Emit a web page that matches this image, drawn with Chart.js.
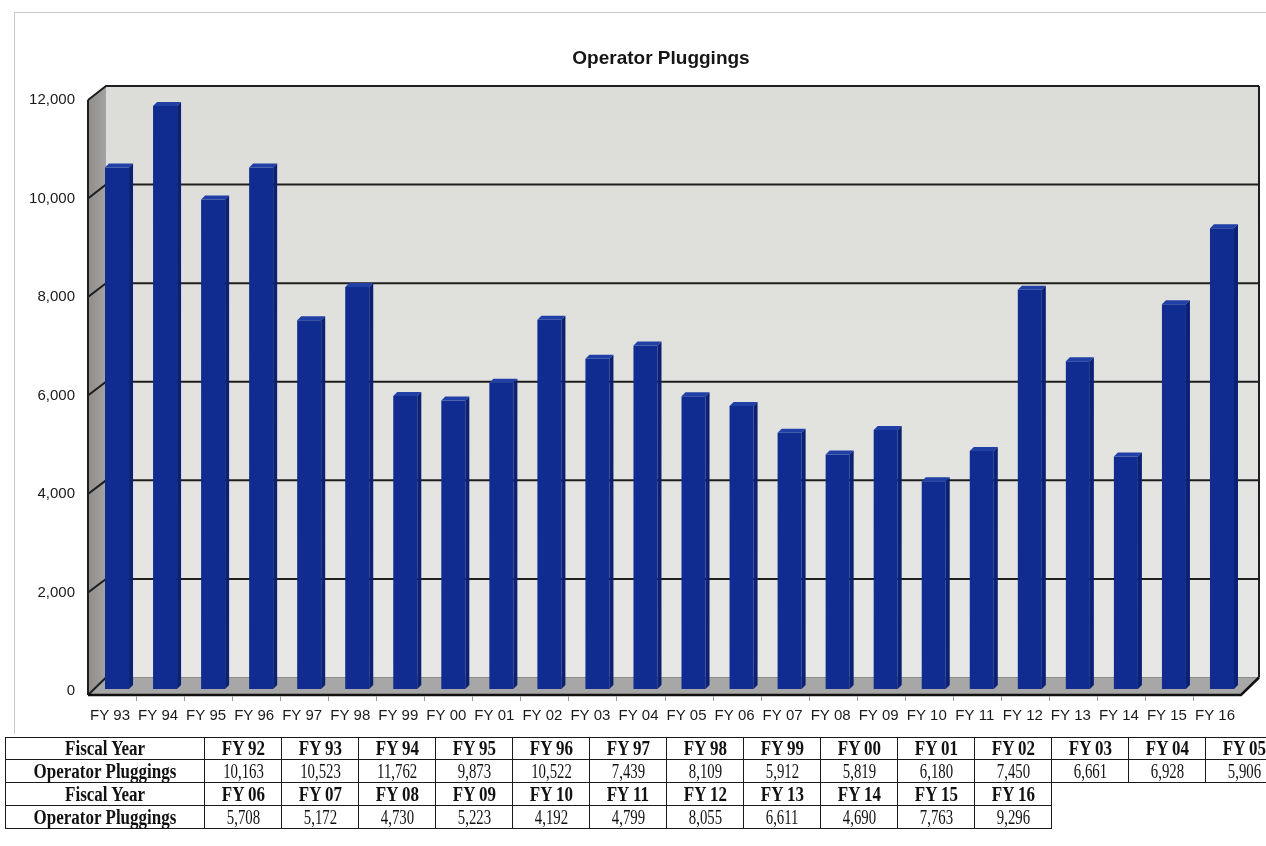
<!DOCTYPE html>
<html>
<head>
<meta charset="utf-8">
<title>Operator Pluggings</title>
<script src="https://cdn.jsdelivr.net/npm/chart.js@4.4.1/dist/chart.umd.min.js"></script>
<style>
  html, body { margin: 0; padding: 0; background: #fff; width: 1266px; height: 846px; overflow: hidden; }
  #frame { position: absolute; left: 14px; top: 12px; width: 1300px; height: 721px;
           border-left: 1px solid #c9c9c9; border-top: 1px solid #c9c9c9; }
  #wrap { position: absolute; left: 0; top: 0; width: 1266px; height: 735px; }
  #tbl { position: absolute; left: 0; top: 0; width: 1266px; height: 846px; overflow: hidden; }
  .cell { position: absolute; box-sizing: border-box; display: flex; align-items: center; justify-content: center;
          font-family: "Liberation Serif", "Times New Roman", serif; font-size: 20px; color: #111;
          white-space: nowrap; border-right: 1.5px solid #1a1a1a; border-bottom: 1.5px solid #1a1a1a; }
  .cell span { display: inline-block; transform: scaleX(0.74); }
  .cell.b { font-weight: bold; }
  .cell.b span { transform: scaleX(0.85); }
  .cell.first { border-left: 1.5px solid #1a1a1a; }
  .cell.top { border-top: 1.5px solid #1a1a1a; }
</style>
</head>
<body>
<div id="frame"></div>
<div id="wrap"><canvas id="chart" width="1266" height="735"></canvas></div>
<div id="tbl"></div>
<script>
// Fiscal years and the number of wells plugged by operators in each
const fiscalYears = ['FY 92', 'FY 93', 'FY 94', 'FY 95', 'FY 96', 'FY 97', 'FY 98', 'FY 99', 'FY 00',
                     'FY 01', 'FY 02', 'FY 03', 'FY 04', 'FY 05', 'FY 06', 'FY 07', 'FY 08', 'FY 09',
                     'FY 10', 'FY 11', 'FY 12', 'FY 13', 'FY 14', 'FY 15', 'FY 16'];
const pluggings = [10163, 10523, 11762, 9873, 10522, 7439, 8109, 5912, 5819,
                   6180, 7450, 6661, 6928, 5906, 5708, 5172, 4730, 5223,
                   4192, 4799, 8055, 6611, 4690, 7763, 9296];

// The chart starts at FY 93
const chartYears = fiscalYears.slice(1);
const chartValues = pluggings.slice(1);
const yTicks = [0, 2000, 4000, 6000, 8000, 10000, 12000];

// Table rows: first block FY 92 - FY 05, second block FY 06 - FY 16
const tableBlocks = [[0, 14], [14, 25]];

const fmt = v => v.toLocaleString('en-US');

Chart.defaults.font.family = '"Liberation Sans", Arial, Helvetica, sans-serif';
Chart.defaults.color = '#1a1a1a';

const DEPTH_X = 18;      // horizontal depth of the plot box
const BAR_D = 4;         // bar extrusion
const FRONT_SHIFT = 5;   // bar face offset from the front category centre

// Back wall, side wall, floor and gridlines of the 3-D plot box
const plotBox = {
  id: 'plotBox',
  beforeDatasetsDraw(chart) {
    const { ctx, scales: { x, y, yBack } } = chart;
    const n = chartYears.length;
    const cw = x.width / n;
    const fl = x.getPixelForValue(0) - cw / 2 - FRONT_SHIFT;
    const fr = fl + cw * n;
    const bl = fl + DEPTH_X, br = fr + DEPTH_X;
    const vTop = yTicks[yTicks.length - 1];
    const top = yBack.getPixelForValue(vTop);
    const bot = yBack.getPixelForValue(0);
    const ftop = y.getPixelForValue(vTop);
    const fbot = chart.chartArea.bottom;

    ctx.save();
    // back wall
    const g = ctx.createLinearGradient(0, top, 0, bot);
    g.addColorStop(0, '#dcddd9');
    g.addColorStop(1, '#e7e8e5');
    ctx.fillStyle = g;
    ctx.fillRect(bl, top, br - bl, bot - top);

    // left side wall
    const gs = ctx.createLinearGradient(fl, 0, bl, 0);
    gs.addColorStop(0, '#8f8c8a');
    gs.addColorStop(1, '#a5a3a1');
    ctx.fillStyle = gs;
    ctx.beginPath();
    ctx.moveTo(fl, ftop); ctx.lineTo(bl, top); ctx.lineTo(bl, bot); ctx.lineTo(fl, fbot);
    ctx.closePath(); ctx.fill();

    // floor
    ctx.fillStyle = '#a7a7a7';
    ctx.beginPath();
    ctx.moveTo(fl, fbot); ctx.lineTo(bl, bot); ctx.lineTo(br, bot); ctx.lineTo(fr, fbot);
    ctx.closePath(); ctx.fill();

    // gridlines across side wall and back wall
    ctx.strokeStyle = '#1e1e1e';
    ctx.lineWidth = 2;
    yTicks.forEach(v => {
      const yb = yBack.getPixelForValue(v);
      const yf = v === 0 ? fbot : y.getPixelForValue(v);
      ctx.beginPath();
      ctx.moveTo(fl, yf); ctx.lineTo(bl, yb);
      if (v > 0) ctx.lineTo(br, yb);
      ctx.stroke();
    });

    // box edges
    ctx.beginPath();
    ctx.moveTo(br, top); ctx.lineTo(br, bot);
    ctx.moveTo(fl, ftop); ctx.lineTo(fl, fbot);
    ctx.stroke();
    ctx.strokeStyle = '#8a8a8a';
    ctx.lineWidth = 1;
    ctx.beginPath();
    ctx.moveTo(bl, bot); ctx.lineTo(br, bot);
    ctx.stroke();

    // front edge of the floor
    ctx.strokeStyle = '#111';
    ctx.lineWidth = 2.5;
    ctx.beginPath();
    ctx.moveTo(fl, fbot); ctx.lineTo(fr, fbot); ctx.lineTo(br, bot);
    ctx.stroke();

    // category tick marks
    ctx.strokeStyle = '#9a9a9a';
    ctx.lineWidth = 1;
    for (let k = 1; k < n; k++) {
      const px = Math.round(fl + k * cw) + 0.5;
      ctx.beginPath(); ctx.moveTo(px, fbot + 1); ctx.lineTo(px, fbot + 6); ctx.stroke();
    }
    ctx.restore();
  }
};

// Top and side faces of each bar
const barFaces = {
  id: 'barFaces',
  afterDatasetsDraw(chart) {
    const { ctx } = chart;
    chart.getDatasetMeta(0).data.forEach(bar => {
      const { x, y, base, width } = bar.getProps(['x', 'y', 'base', 'width'], true);
      const l = x - width / 2, r = x + width / 2;
      ctx.save();
      ctx.fillStyle = '#2140a6';
      ctx.beginPath();
      ctx.moveTo(l, y); ctx.lineTo(l + BAR_D, y - BAR_D); ctx.lineTo(r + BAR_D, y - BAR_D); ctx.lineTo(r, y);
      ctx.closePath(); ctx.fill();
      ctx.fillStyle = '#0b2173';
      ctx.beginPath();
      ctx.moveTo(r, y); ctx.lineTo(r + BAR_D, y - BAR_D); ctx.lineTo(r + BAR_D, base - BAR_D); ctx.lineTo(r, base);
      ctx.closePath(); ctx.fill();
      ctx.restore();
    });
  }
};

new Chart(document.getElementById('chart'), {
  type: 'bar',
  data: {
    labels: chartYears,
    datasets: [{
      label: 'Operator Pluggings',
      data: chartValues,
      yAxisID: 'yBar',
      backgroundColor: '#102c90',
      borderWidth: 0,
      barPercentage: 0.5,
      categoryPercentage: 1
    }]
  },
  options: {
    responsive: false,
    animation: false,
    devicePixelRatio: 1,
    // the negative right padding is taken back by the spacer axis, so the
    // full-width title sits centred over the plot box
    layout: { padding: { left: 25, right: -31, top: 0, bottom: 0 } },
    plugins: {
      legend: { display: false },
      tooltip: { enabled: false },
      title: {
        display: true,
        text: 'Operator Pluggings',
        color: '#151515',
        font: { size: 19, weight: 'bold' },
        padding: { top: 47, bottom: 16.2 }
      }
    },
    scales: {
      x: {
        grid: { display: false, drawTicks: false },
        border: { display: false },
        ticks: { autoSkip: false, maxRotation: 0, minRotation: 0, labelOffset: -7, padding: 12,
                 font: { size: 15 } },
        afterFit: s => { s.height = 40; }
      },
      y: {
        position: 'left',
        min: -81,
        max: 12284,
        grid: { display: false, drawTicks: false },
        border: { display: false },
        ticks: { padding: 18, font: { size: 15 }, callback: v => fmt(v) },
        afterBuildTicks: s => { s.ticks = yTicks.map(v => ({ value: v })); },
        afterFit: s => { s.width = 68; }
      },
      ySpacer: {
        position: 'right',
        grid: { display: false, drawTicks: false },
        border: { display: false },
        ticks: { display: false },
        afterFit: s => { s.width = 51; }
      },
      yBar: { display: false, min: -121, max: 12165 },
      yBack: { display: false, min: -355, max: 12000 }
    }
  },
  plugins: [plotBox, barFaces]
});

// Data table under the chart
(function buildTable() {
  const host = document.getElementById('tbl');
  const top0 = 737, rowH = 23, x0 = 5, firstW = 200, colW = 77;
  const add = (text, left, top, w, cls) => {
    const d = document.createElement('div');
    d.className = 'cell ' + cls;
    d.style.left = left + 'px';
    d.style.top = top + 'px';
    d.style.width = w + 'px';
    d.style.height = rowH + 'px';
    const s = document.createElement('span');
    s.textContent = text;
    d.appendChild(s);
    host.appendChild(d);
  };
  tableBlocks.forEach(([a, b], bi) => {
    const yHead = top0 + bi * 2 * rowH;
    const yVal = yHead + rowH;
    const firstTop = bi === 0 ? ' top' : '';
    add('Fiscal Year', x0, yHead, firstW, 'b first' + firstTop);
    add('Operator Pluggings', x0, yVal, firstW, 'b first');
    for (let i = a; i < b; i++) {
      const left = x0 + firstW + (i - a) * colW;
      add(fiscalYears[i], left, yHead, colW, 'b' + firstTop);
      add(fmt(pluggings[i]), left, yVal, colW, '');
    }
  });
})();
</script>
</body>
</html>
